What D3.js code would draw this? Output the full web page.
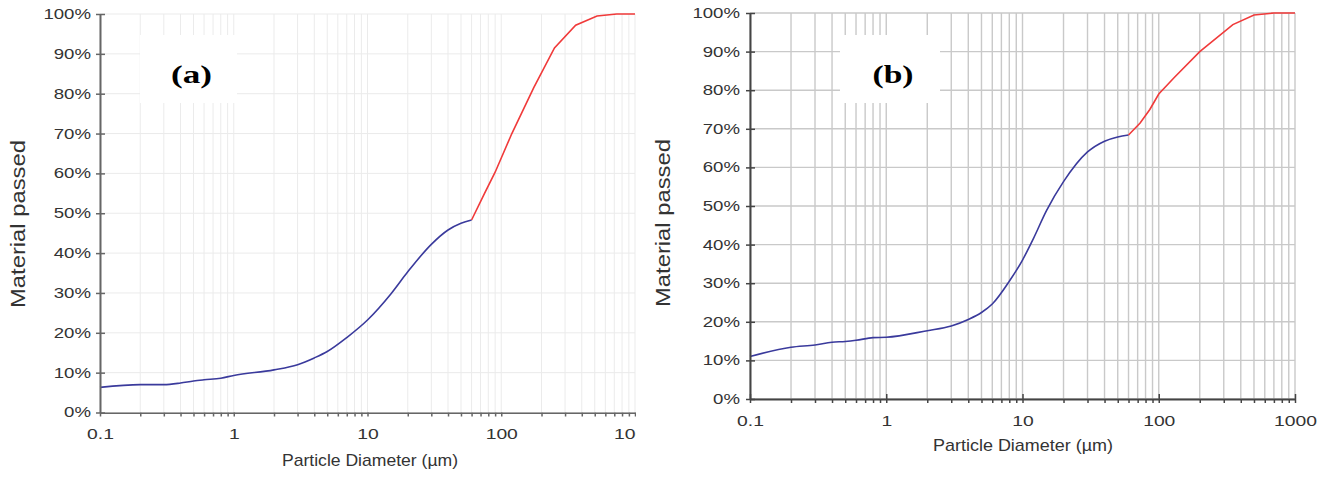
<!DOCTYPE html>
<html>
<head>
<meta charset="utf-8">
<script src="https://cdn.jsdelivr.net/npm/d3@7"></script>
<style>
  body { margin: 0; background: #fff; }
  svg { display: block; font-family: "Liberation Sans", Arial, sans-serif; }
</style>
</head>
<body>
<svg id="chart" width="1326" height="478"></svg>
<script>
// particle size (µm) and cumulative % passed
const aFineSize   = [0.1, 0.2, 0.3, 0.4, 0.5, 0.6, 0.8, 1, 2, 3, 4, 5, 7, 10, 15, 20, 30, 40, 50, 60];
const aFinePassed = [6.3, 7.0, 7.0, 7.4, 7.9, 8.2, 8.6, 9.3, 10.7, 12, 13.7, 15.3, 18.8, 23.2, 29.8, 35.3, 42.2, 45.8, 47.5, 48.3];
const aCoarseSize   = [60, 75, 90, 120, 175, 250, 360, 520, 730, 1000];
const aCoarsePassed = [48.3, 55, 60.3, 70, 81.5, 91.5, 97.2, 99.5, 100, 100];

const bFineSize   = [0.1, 0.2, 0.3, 0.4, 0.5, 0.6, 0.8, 1, 2, 3, 4, 5, 6, 8, 10, 12, 15, 20, 30, 40, 50, 60];
const bFinePassed = [11, 13.4, 14, 14.7, 14.9, 15.2, 15.9, 16, 17.7, 18.9, 20.6, 22.4, 24.6, 30.5, 36, 41.5, 48.8, 56.3, 64, 66.8, 67.9, 68.4];
const bCoarseSize   = [60, 73, 86, 100, 130, 200, 350, 500, 700, 1000];
const bCoarsePassed = [68.4, 71.5, 75, 79, 83.3, 90, 97, 99.5, 100, 100];

const xMajor = [0.1, 1, 10, 100, 1000];
const xTickLabels = ["0.1", "1", "10", "100", "1000"];
const yTicks = [0, 10, 20, 30, 40, 50, 60, 70, 80, 90, 100];

const svg = d3.select("#chart");
const blue = "#3a3a9c", red = "#f03a3a";

function drawPanel(p) {
  const g = svg.append("g");
  const x = d3.scaleLog().domain([0.1, 1000]).range([p.left, p.right]);
  const y = d3.scaleLinear().domain([0, 100]).range([p.bottom, p.top]);

  // grid
  g.append("g").selectAll("line").data(yTicks).join("line")
    .attr("x1", p.left).attr("x2", p.right)
    .attr("y1", d => y(d)).attr("y2", d => y(d))
    .attr("stroke", p.grid).attr("stroke-width", p.gridWidth);
  g.append("g").selectAll("line").data(x.ticks()).join("line")
    .attr("x1", d => x(d)).attr("x2", d => x(d))
    .attr("y1", p.top).attr("y2", p.bottom)
    .attr("stroke", p.grid).attr("stroke-width", p.gridWidth);

  // panel letter on a white patch
  g.append("rect").attr("x", p.box[0]).attr("y", p.box[1])
    .attr("width", p.box[2]).attr("height", p.box[3]).attr("fill", "#fff");
  g.append("text").attr("x", p.box[0] + p.box[2] / 2 + 3).attr("y", 83)
    .attr("text-anchor", "middle")
    .attr("font-family", "'Liberation Serif', 'Times New Roman', serif")
    .attr("font-weight", "bold").attr("font-size", 26)
    .attr("textLength", 41).attr("lengthAdjust", "spacingAndGlyphs")
    .text(p.letter);

  // curves
  const line = d3.line().x(d => x(d[0])).y(d => y(d[1])).curve(d3.curveMonotoneX);
  g.append("path").datum(d3.zip(p.fineSize, p.finePassed))
    .attr("d", line).attr("fill", "none").attr("stroke", blue).attr("stroke-width", 1.6);
  g.append("path").datum(d3.zip(p.coarseSize, p.coarsePassed))
    .attr("d", line.curve(d3.curveLinear)).attr("fill", "none").attr("stroke", red).attr("stroke-width", 1.6);

  // y axis
  const ya = g.append("g").attr("transform", `translate(${p.left},0)`)
    .call(d3.axisLeft(y).tickValues(yTicks).tickFormat(d => d + "%").tickSizeOuter(0));
  ya.select(".domain").attr("stroke", p.axis).attr("stroke-width", 2);
  ya.selectAll(".tick line").attr("x1", -4).attr("x2", 5).attr("stroke", p.axis).attr("stroke-width", 1.5);
  ya.selectAll(".tick text").attr("x", p.yLabelOff / 1.33).attr("transform", "scale(1.33,1)")
    .attr("font-size", 14).attr("fill", "#333");

  // x axis
  const isMajor = d => Math.abs(Math.log10(d) - Math.round(Math.log10(d))) < 1e-9;
  const xa = g.append("g").attr("transform", `translate(0,${p.bottom})`)
    .call(d3.axisBottom(x).tickValues(x.ticks())
      .tickFormat(d => isMajor(d) ? xTickLabels[Math.round(Math.log10(d)) + 1] : "")
      .tickSizeOuter(0));
  if (p.clipRight) {
    const id = "clip-" + p.letter.replace(/\W/g, "");
    svg.append("clipPath").attr("id", id).append("rect")
      .attr("x", 0).attr("y", 0).attr("width", p.clipRight).attr("height", 478);
    xa.attr("clip-path", `url(#${id})`);
  }
  xa.select(".domain").attr("stroke", p.axis).attr("stroke-width", 2);
  xa.selectAll(".tick line")
    .attr("y1", d => isMajor(d) ? -5 : 0).attr("y2", 4)
    .attr("stroke", p.axis).attr("stroke-width", 1.5);
  xa.selectAll(".tick text").attr("y", 17).attr("transform", "scale(1.38,1)")
    .attr("font-size", 14).attr("fill", "#333");

  // titles
  g.append("text").attr("x", p.xTitle[0]).attr("y", p.xTitle[1])
    .attr("text-anchor", "middle").attr("font-size", 17).attr("fill", "#333")
    .attr("textLength", p.xTitle[2]).attr("lengthAdjust", "spacingAndGlyphs")
    .text("Particle Diameter (µm)");
  g.append("text").attr("transform", `translate(${p.yTitle[0]},${p.yTitle[1]}) rotate(-90)`)
    .attr("text-anchor", "middle").attr("font-size", 21).attr("fill", "#333")
    .attr("textLength", 168).attr("lengthAdjust", "spacingAndGlyphs")
    .text("Material passed");
}

drawPanel({
  letter: "(a)", left: 100, right: 635, top: 14, bottom: 412.5,
  grid: "#ebebeb", gridWidth: 1, axis: "#666", yLabelOff: -9, clipRight: 636,
  box: [140, 35, 97, 68], xTitle: [370, 466, 176], yTitle: [25, 224],
  fineSize: aFineSize, finePassed: aFinePassed, coarseSize: aCoarseSize, coarsePassed: aCoarsePassed
});
drawPanel({
  letter: "(b)", left: 750, right: 1295, top: 13, bottom: 399,
  grid: "#c9c9c9", gridWidth: 1.4, axis: "#444", yLabelOff: -10, clipRight: null,
  box: [840, 35, 100, 68], xTitle: [1023, 451, 180], yTitle: [670, 223],
  fineSize: bFineSize, finePassed: bFinePassed, coarseSize: bCoarseSize, coarsePassed: bCoarsePassed
});
</script>
</body>
</html>
